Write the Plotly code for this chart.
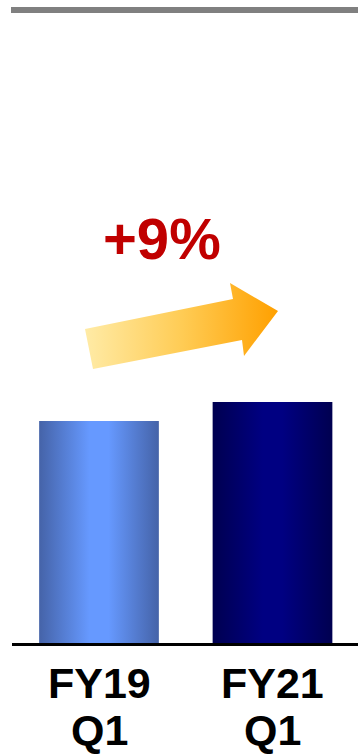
import plotly.graph_objects as go

# ---- data ----
categories = ["FY19 Q1", "FY21 Q1"]
values = [100, 108.6]
growth_label = "+9%"
edge_colors = ["#4563A8", "#000050"]
center_colors = ["#6699FF", "#000082"]

W, H = 358, 755
L, R, T, B = 12, 0, 10, 112
bar_w = 0.69
plot_h = H - T - B
plot_w = W - L - R


def py_to_paper(py):
    return (H - B - py) / plot_h


def px_to_paper(px):
    return (px - L) / plot_w


fig = go.Figure()

for i, (cat, v) in enumerate(zip(categories, values)):
    x0, x1 = i - bar_w / 2, i + bar_w / 2
    fig.add_trace(go.Scatter(
        x=[x0, x1, x1, x0, x0], y=[0, 0, v, v, 0],
        mode="lines", line=dict(width=0), fill="toself",
        fillgradient=dict(type="horizontal", colorscale=[
            [0, edge_colors[i]], [0.42, center_colors[i]],
            [0.58, center_colors[i]], [1, edge_colors[i]]]),
        hoverinfo="skip", showlegend=False, name=cat))

# decorative growth arrow on a pixel-space overlay axis
arrow_x = [85, 233, 230, 278, 244, 242, 93, 85]
arrow_y = [329, 299, 283, 311, 356, 340, 369, 329]
fig.add_trace(go.Scatter(
    x=arrow_x, y=arrow_y, xaxis="x2", yaxis="y2",
    mode="lines", line=dict(width=0), fill="toself",
    fillgradient=dict(type="horizontal", colorscale=[
        [0, "#FFEBA6"], [0.5, "#FFCC55"], [1, "#FFA000"]]),
    hoverinfo="skip", showlegend=False))

annotations = []
for i, cat in enumerate(categories):
    lines = cat.split(" ")
    for j, t in enumerate(lines):
        annotations.append(dict(
            x=i, xref="x", y=py_to_paper(657 + j * 47), yref="paper",
            text=f"<b>{t}</b>", showarrow=False, yanchor="top",
            xanchor="center",
            font=dict(family="Liberation Sans, Arial", size=43, color="black")))

annotations.append(dict(
    x=162, y=238, xref="x2", yref="y2", text=f"<b>{growth_label}</b>",
    showarrow=False, xanchor="center", yanchor="middle",
    font=dict(family="Liberation Sans, Arial", size=58, color="#C00000")))

px_per_unit = (643 - 421) / values[0]
ymax = plot_h / px_per_unit
cat_px = 173.5
x_lo = -(99 - L) / cat_px
x_hi = x_lo + plot_w / cat_px

fig.update_layout(
    width=W, height=H,
    margin=dict(l=L, r=R, t=T, b=B),
    paper_bgcolor="white", plot_bgcolor="white",
    xaxis=dict(range=[x_lo, x_hi], showgrid=False, zeroline=False,
               showticklabels=False, ticks="", showline=True,
               linecolor="black", linewidth=3, fixedrange=True),
    yaxis=dict(range=[0, ymax], showgrid=False, zeroline=False,
               showticklabels=False, ticks="", showline=False, fixedrange=True),
    xaxis2=dict(range=[L, W - R], overlaying="x", visible=False, fixedrange=True),
    yaxis2=dict(range=[H - B, T], overlaying="y", visible=False, fixedrange=True),
    annotations=annotations,
    shapes=[dict(type="line", xref="paper", yref="paper",
                 x0=px_to_paper(11), x1=1, y0=py_to_paper(10), y1=py_to_paper(10),
                 line=dict(color="#808080", width=6))],
)

fig.write_html("out.html")
